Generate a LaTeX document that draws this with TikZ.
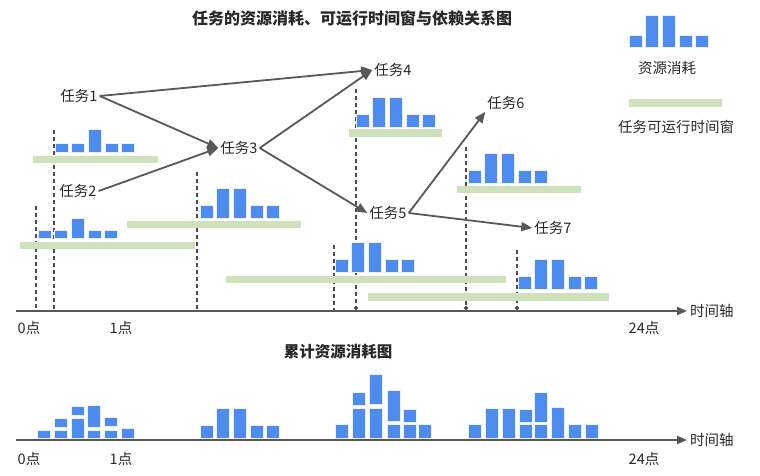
\documentclass[tikz,border=0pt]{standalone}
\usepackage{fontspec}
\setmainfont{Noto Sans CJK SC}
\usepackage{tikz}
\usetikzlibrary{arrows.meta, positioning}

\definecolor{loadblue}{RGB}{78,139,238}
\definecolor{wingreen}{RGB}{205,225,186}
\definecolor{inkgray}{RGB}{88,88,88}
\definecolor{txtgray}{RGB}{40,40,40}

% bars of one task: first x, base y, unit height, heights
\newcommand{\taskload}[4]{%
  \foreach \h [count=\i from 0] in {#4}
    \draw[load] ({#1+16.6*\i},#2) rectangle ++(13,{-#3*\h});%
}

\begin{document}
\begin{tikzpicture}[
    x=1pt, y=-1pt,
    load/.style={fill=loadblue, draw=loadblue!12, line width=0.6pt},
    window/.style={fill=wingreen},
    task/.style={font=\fontsize{14.5}{17}\selectfont, text=txtgray, inner sep=2pt},
    title/.style={font=\fontsize{16}{19}\selectfont\bfseries, text=txtgray},
    dep/.style={-{Triangle[length=11pt,width=9pt]}, line width=1.8pt, draw=inkgray},
    axis/.style={-{Triangle[length=10pt,width=8pt]}, line width=2pt, draw=inkgray},
    guide/.style={line width=1.8pt, draw=black!70, dash pattern=on 4pt off 3pt},
    guidedot/.style={guide, -{Circle[length=4pt]}}
]
    \useasboundingbox (0,0) rectangle (760,476);

    % Titles
    \node[title] (ttl) at (352,18) {任务的资源消耗、可运行时间窗与依赖关系图};
    \node[title, font=\fontsize{15.5}{18}\selectfont\bfseries] (sum) at (338,352) {累计资源消耗图};

    % Start lines of tasks
    \draw[guide] (36,206) -- (36,310);
    \draw[guide] (54,130) -- (54,310);
    \draw[guide] (197,172) -- (197,310);
    \draw[guidedot] (356,89) -- (356,310);
    \draw[guide] (334,245) -- (334,310);
    \draw[guidedot] (466,147) -- (466,310);
    \draw[guidedot] (517,250) -- (517,310);

    % Run windows
    \fill[window] (33,156) rectangle (158,163);
    \fill[window] (20,242) rectangle (195,249);
    \fill[window] (127,221) rectangle (301,228);
    \fill[window] (349,129) rectangle (442,137);
    \fill[window] (226,276) rectangle (506,283);
    \fill[window] (457,186) rectangle (581,193);
    \fill[window] (368,293) rectangle (609,301);

    % Resource use of each task
    \taskload{55}{152}{9}{1,1,2.5,1,1}
    \taskload{38}{238}{8}{1,1,2.5,1,1}
    \taskload{200}{218}{12.5}{1,2.4,2.4,1,1}
    \taskload{356}{127}{12.5}{1,2.4,2.4,1,1}
    \taskload{335}{272}{12.5}{1,2.4,2.4,1,1}
    \taskload{468}{183}{12.5}{1,2.4,2.4,1,1}
    \taskload{518}{289}{12.5}{1,2.4,2.4,1,1}

    % Tasks
    \node[task] (t1) at (79,96) {任务1};
    \node[task] (t2) at (78,191) {任务2};
    \node[task] (t3) at (239,148) {任务3};
    \node[task] (t4) at (393,70) {任务4};
    \node[task] (t5) at (388,213) {任务5};
    \node[task] (t6) at (506,103) {任务6};
    \node[task] (t7) at (553,228) {任务7};

    % Dependencies
    \draw[dep] (t1.east) -- (t4.west);
    \draw[dep] (t1.east) -- (t3.west);
    \draw[dep] (t2.east) -- (t3.west);
    \draw[dep] (t3.east) -- (t4.west);
    \draw[dep] (t3.east) -- (t5.west);
    \draw[dep] (t5.east) -- (t6.south west);
    \draw[dep] (t5.east) -- (t7.west);

    % Legend
    \taskload{629}{47}{12}{1,2.6,2.6,1,1}
    \node[task] (lgload) at (667,68) {资源消耗};
    \fill[window] (629,99) rectangle (722,107);
    \node[task] (lgwin) at (676,127) {任务可运行时间窗};

    % Upper time axis
    \coordinate (ax0) at (16,311);
    \coordinate (ax1) at (687,311);
    \draw[axis] (ax0) -- (ax1);
    \node[task, right=1pt of ax1] (axlbl) {时间轴};
    \node[task] (h0) at (29,328) {0点};
    \node[task] (h1) at (121,328) {1点};
    \node[task] (h24) at (644,328) {24点};

    % Summed resource use
    \foreach \x/\a/\b in {37/430/438, 54/430/438, 54/418/427, 71/418/438, 71/406/415,
        87/430/438, 87/405/427, 104/430/438, 104/417/426, 121/428/438,
        335/424/438, 352/408/438, 352/392/405, 369/408/438, 369/374/404,
        387/424/438, 387/390/421, 403/424/438, 403/409/422, 418/424/438,
        468/424/438, 485/408/438, 502/408/438, 519/424/438, 519/409/422,
        534/424/438, 534/392/422, 551/407/438, 568/424/438, 585/424/438}
        \draw[load] (\x,\b) rectangle ({\x+13},\a);
    \taskload{200}{438}{12.5}{1,2.4,2.4,1,1}

    % Lower time axis
    \coordinate (bx0) at (16,440);
    \coordinate (bx1) at (687,440);
    \draw[axis] (bx0) -- (bx1);
    \node[task, right=1pt of bx1] (bxlbl) {时间轴};
    \node[task] (g0) at (29,459) {0点};
    \node[task] (g1) at (121,459) {1点};
    \node[task] (g24) at (644,459) {24点};
\end{tikzpicture}
\end{document}
